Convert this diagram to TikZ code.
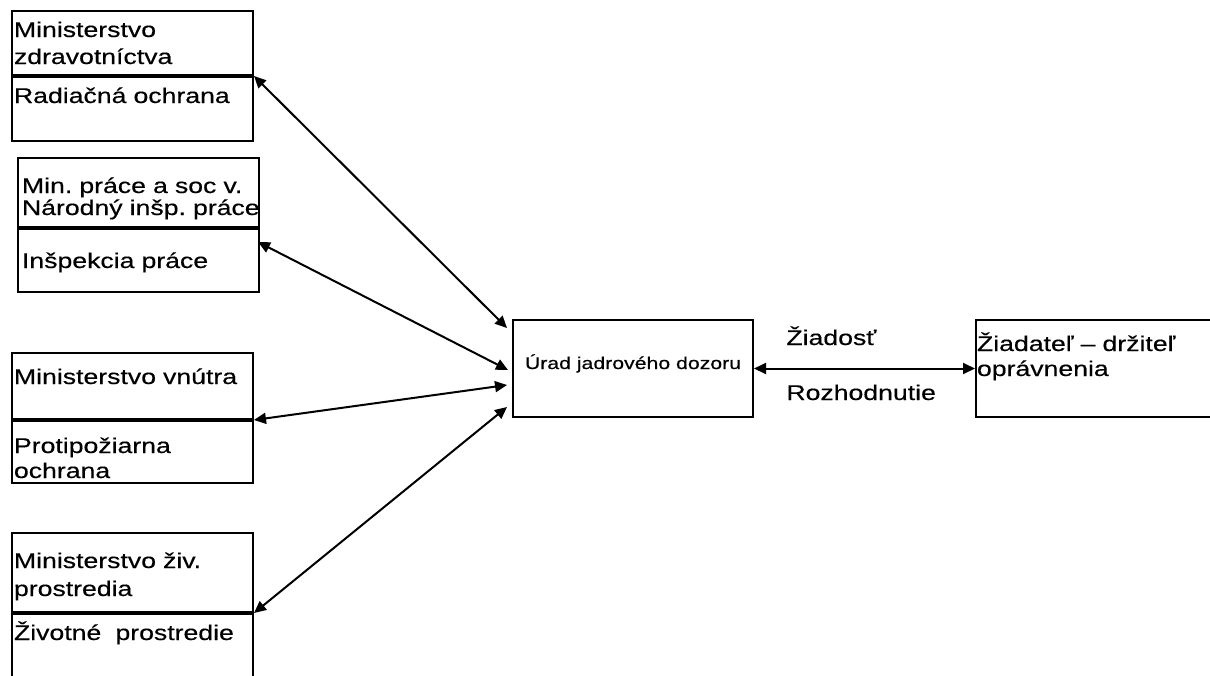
\documentclass[tikz,border=0pt]{standalone}
\usepackage{fontspec}
\setmainfont[FakeStretch=1.25,FakeBold=0.4]{Liberation Sans}
\usetikzlibrary{positioning,arrows.meta}
\frenchspacing

\tikzset{
  cell/.style n args={3}{draw, line width=1pt, inner xsep=1pt, inner ysep=0pt,
    text width=118.5pt, align=left, text height=#1, text depth=#2,
    font=\fontsize{10.65pt}{#3}\selectfont},
  divider/.style={line width=1.6pt},
  link/.style={{Triangle[length=6pt,width=5.5pt]}-{Triangle[length=6pt,width=5.5pt]}, line width=1pt},
  tag/.style={anchor=base west, inner sep=0pt, font=\fontsize{10.65pt}{13pt}\selectfont},
}

\begin{document}
\begin{tikzpicture}[x=0.5pt,y=-0.5pt]
  \useasboundingbox (0,0) rectangle (1210,675);

  % ministries, each as two stacked cells
  \node[cell={13pt}{19pt}{13.5pt}, anchor=north west] (zdrav) at (11,10) {Ministerstvo\\zdravotníctva};
  \node[cell={13pt}{19pt}{13.5pt}, below=0pt of zdrav] (radiac) {Radiačná ochrana};

  \node[cell={17.5pt}{17pt}{11pt}, inner xsep=2pt, text width=116.5pt, anchor=north west] (prace) at (17,157)
    {Min. práce a soc v.\\\mbox{Národný inšp. práce}};
  \node[cell={19.5pt}{12pt}{11pt}, inner xsep=2pt, text width=116.5pt, below=0pt of prace] (inspek) {Inšpekcia práce};

  \node[cell={15.5pt}{17.5pt}{12.5pt}, anchor=north west] (vnutra) at (11,352) {Ministerstvo vnútra};
  \node[cell={16pt}{15pt}{12.5pt}, below=0pt of vnutra] (pozar) {Protipožiarna\\ochrana};

  \node[cell={17.5pt}{22pt}{14pt}, anchor=north west] (zivpr) at (11,532) {Ministerstvo živ.\\prostredia};
  \node[cell={13pt}{31.5pt}{14pt}, below=0pt of zivpr] (zivot) {Životné\ \ prostredie};

  \foreach \n in {radiac,inspek,pozar,zivot}
    \draw[divider] (\n.north west) -- (\n.north east);

  % office and applicant
  \node[draw, line width=1pt, anchor=north west, inner sep=0pt, minimum width=120pt,
    text height=24.5pt, text depth=24pt, font=\fontsize{8.5pt}{10pt}\selectfont] (ujd) at (512,319)
    {Úrad jadrového dozoru};
  \node[cell={15.5pt}{33pt}{12.5pt}, inner xsep=0.5pt, text width=131.5pt, anchor=north west] (ziad) at (975,319)
    {Žiadateľ – držiteľ\\oprávnenia};

  \node[tag] (ziadost) at (786,345) {Žiadosť};
  \node[tag] (rozhod) at (786,400) {Rozhodnutie};

  \draw[link] (radiac.north east) -- ([shift={(-2.5pt,-4.5pt)}]ujd.north west);
  \draw[link] ([shift={(-1pt,-7pt)}]inspek.north east) -- ([shift={(-2pt,-25.5pt)}]ujd.north west);
  \draw[link] (pozar.north east) -- ([shift={(-2.5pt,-33pt)}]ujd.north west);
  \draw[link] (zivot.north east) -- ([shift={(-2.5pt,-44pt)}]ujd.north west);
  \draw[link] (ujd.east) -- (ziad.west);
\end{tikzpicture}
\end{document}
